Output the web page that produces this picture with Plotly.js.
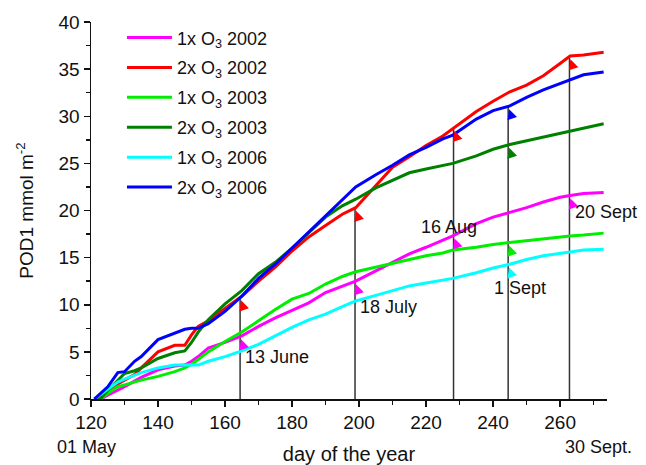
<!DOCTYPE html>
<html>
<head>
<meta charset="utf-8">
<script src="https://cdn.plot.ly/plotly-3.0.1.min.js"></script>
<style>html,body{margin:0;padding:0;background:#fff;}#chart{width:646px;height:465px;}</style>
</head>
<body>
<div id="chart"></div>
<script>
// ---- data ----
const days = [121,123,125,128,130,133,135,140,145,148,150,152,155,160,165,170,175,180,185,190,195,199,205,210,215,220,225,228,235,240,245,250,255,260,263,267,273];

const o3x1_2002 = [0,0,0.4,0.9,1.3,1.9,2.3,3.1,3.5,3.6,4.0,4.5,5.4,6.0,6.7,7.7,8.6,9.4,10.2,11.3,12.0,12.5,13.6,14.5,15.4,16.1,16.8,17.3,18.6,19.3,19.8,20.3,20.9,21.4,21.6,21.8,21.9];
const o3x2_2002 = [0,0.2,0.6,1.6,2.0,2.6,3.3,5.0,5.7,5.7,6.8,7.7,8.3,9.6,10.9,12.5,14.0,15.7,17.2,18.4,19.6,20.3,22.6,24.6,25.7,26.9,27.9,28.7,30.5,31.6,32.6,33.3,34.3,35.6,36.4,36.5,36.8];
const o3x1_2003 = [0,0,0.6,1.3,1.5,1.8,2.0,2.4,2.9,3.3,3.7,4.2,5.0,6.1,7.1,8.3,9.5,10.6,11.2,12.2,13.0,13.5,14.0,14.4,14.8,15.2,15.5,15.8,16.1,16.4,16.6,16.8,17.0,17.2,17.3,17.4,17.6];
const o3x2_2003 = [0,0.1,0.9,2.0,2.7,3.0,3.3,4.3,4.9,5.1,6.0,7.1,8.4,10.1,11.5,13.3,14.5,16.0,17.7,19.3,20.5,21.2,22.4,23.2,24.0,24.4,24.8,25.0,25.8,26.5,27.0,27.4,27.8,28.2,28.4,28.8,29.2];
const o3x1_2006 = [0,0.5,1.0,1.8,2.1,2.5,2.8,3.3,3.6,3.6,3.6,3.6,4.0,4.5,5.1,5.8,6.7,7.6,8.4,9.0,9.8,10.4,11.0,11.5,12.0,12.3,12.6,12.8,13.4,13.9,14.3,14.8,15.2,15.5,15.6,15.8,15.9];
const o3x2_2006 = [0,0.6,1.3,2.8,2.9,4.0,4.5,6.3,7.0,7.4,7.5,7.5,8.0,9.3,10.9,12.8,14.3,16.0,17.8,19.5,21.2,22.5,23.8,24.8,25.9,26.7,27.6,28.0,29.7,30.6,31.1,32.0,32.8,33.5,33.9,34.4,34.7];

const seriesNames = ['1x O<sub>3</sub> 2002','2x O<sub>3</sub> 2002','1x O<sub>3</sub> 2003','2x O<sub>3</sub> 2003','1x O<sub>3</sub> 2006','2x O<sub>3</sub> 2006'];
const seriesValues = [o3x1_2002,o3x2_2002,o3x1_2003,o3x2_2003,o3x1_2006,o3x2_2006];
const seriesColors = ['#ff00ff','#ff0000','#00ee00','#008000','#00ffff','#0000ff'];

// marked dates (day of year), label, index of series whose curve tops the drop line, series with arrows
const markDays   = [164.5, 198.8, 228.2, 244.5, 262.8];
const markLabels = ['13 June','18 July','16 Aug','1 Sept','20 Sept'];
const markTop    = [1, 1, 1, 5, 1];
const markArrows = [[1,0],[1,0],[1,0],[5,3,2,4],[1,0]];
const markLabelY = [4.5, 9.8, 18.2, 11.8, 19.8];

const xTickVals = [120,140,160,180,200,220,240,260];

function interp(arr, d){
  for(let i=0;i<days.length-1;i++){
    if(d>=days[i] && d<=days[i+1]){
      const t=(d-days[i])/(days[i+1]-days[i]);
      return arr[i]+t*(arr[i+1]-arr[i]);
    }
  }
  return arr[arr.length-1];
}

const traces = seriesNames.map((n,i)=>({
  x: days, y: seriesValues[i], name: n, type:'scatter', mode:'lines', legendgroup:'g'+i,
  line:{color:seriesColors[i], width:3}
}));

const shapes = markDays.map((d,i)=>({
  type:'line', xref:'x', yref:'y', x0:d, x1:d, y0:0, y1:interp(seriesValues[markTop[i]], d),
  line:{color:'#333', width:1.5}, layer:'below'
}));

const annotations = [];
markDays.forEach((d,i)=>{
  markArrows[i].forEach(s=>{
    annotations.push({x:d, y:interp(seriesValues[s], d), xref:'x', yref:'y', text:'',
      showarrow:true, arrowhead:2, arrowsize:1, arrowwidth:2, arrowcolor:seriesColors[s],
      ax:3, ay:9, standoff:3});
  });
});
const labelAnchor = ['left','left','center','center','left'];
const labelShift = [3, 3, -5, 12, 4];
const fontFam = 'Liberation Sans, Arial, sans-serif';
markDays.forEach((d,i)=>{
  annotations.push({x:d, y:markLabelY[i], xref:'x', yref:'y', text:markLabels[i], showarrow:false,
    xanchor:labelAnchor[i], xshift:labelShift[i], font:{family:fontFam, size:18, color:'#111'}});
});
annotations.push({x:121, y:0, xref:'x', yref:'paper', text:'01 May', showarrow:false, xanchor:'center', xshift:-8, yanchor:'top', yshift:-36, font:{family:fontFam, size:18, color:'#111'}});
annotations.push({x:273, y:0, xref:'x', yref:'paper', text:'30 Sept.', showarrow:false, xanchor:'right', xshift:30, yanchor:'top', yshift:-36, font:{family:fontFam, size:18, color:'#111'}});

const layout = {
  width:646, height:465,
  margin:{l:91, r:39, t:22, b:66},
  paper_bgcolor:'#fff', plot_bgcolor:'#fff',
  font:{family:fontFam, size:19, color:'#111'},
  showlegend:true,
  legend:{x:0.06, y:1.007, xanchor:'left', yanchor:'top', bgcolor:'rgba(0,0,0,0)', borderwidth:0,
    font:{size:18, family:fontFam}, itemwidth:45, tracegroupgap:3.5},
  xaxis:{range:[120,274], tickvals:xTickVals, ticks:'outside', ticklen:6, tickwidth:1.5, tickcolor:'#111',
    showline:true, linecolor:'#111', linewidth:1.5, showgrid:false, zeroline:false,
    minor:{dtick:10, tick0:120, ticks:'outside', ticklen:4, tickwidth:1.5, tickcolor:'#111', showgrid:false},
    title:{text:'day of the year', standoff:30, font:{size:20}}, automargin:false},
  yaxis:{range:[0,40], dtick:5, tick0:0, ticks:'outside', ticklen:6, tickwidth:1.5, tickcolor:'#111',
    showline:true, linecolor:'#111', linewidth:1.5, showgrid:false, zeroline:false,
    minor:{dtick:2.5, tick0:0, ticks:'outside', ticklen:4, tickwidth:1.5, tickcolor:'#111', showgrid:false},
    title:{text:'POD1 mmol m<sup>-2</sup>', standoff:20, font:{size:19}}, automargin:false},
  shapes: shapes,
  annotations: annotations
};

Plotly.newPlot('chart', traces, layout, {displayModeBar:false, staticPlot:true});
</script>
</body>
</html>
